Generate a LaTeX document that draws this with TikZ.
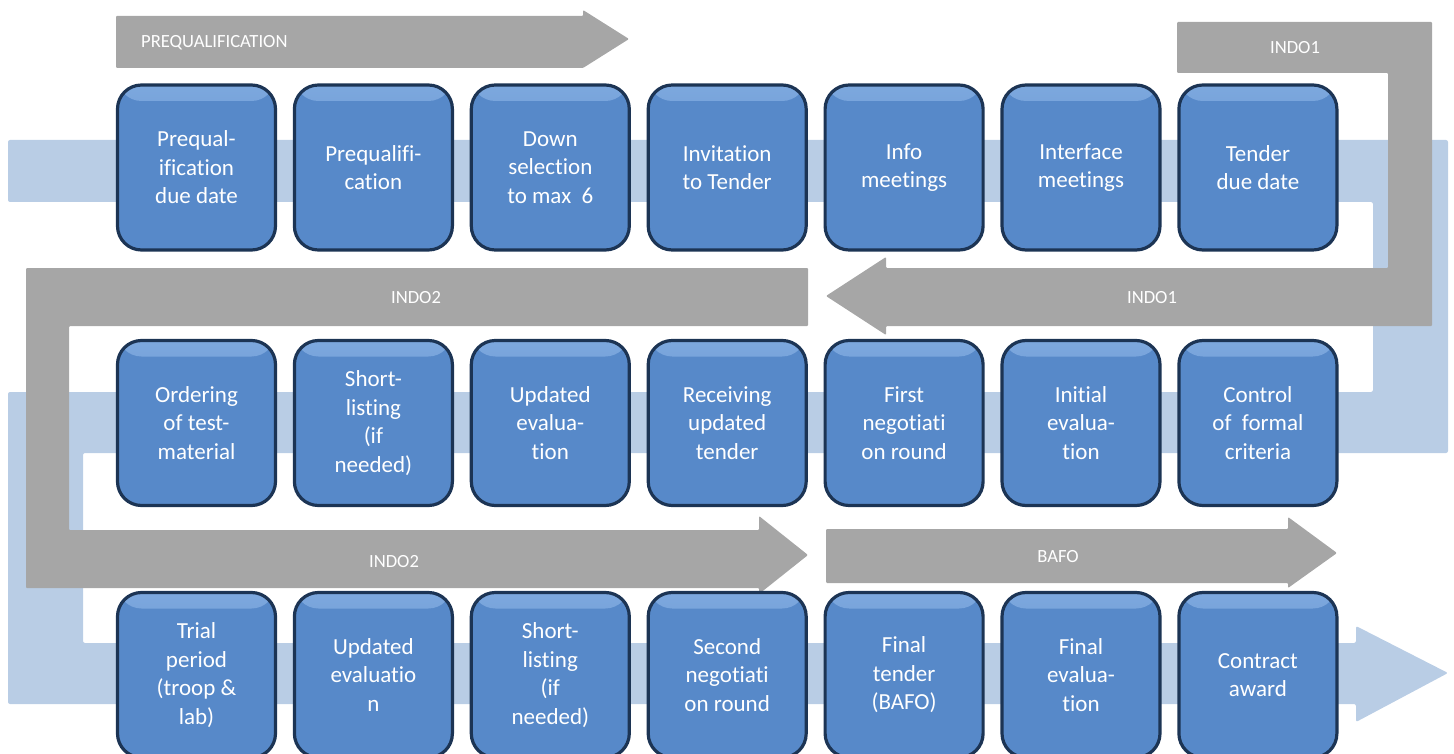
\documentclass[tikz,border=0pt]{standalone}
\usepackage{fontspec}
\setmainfont{Carlito}[Ligatures=CommonOff]
\definecolor{bandblue}{HTML}{B9CDE5}
\definecolor{grayarrow}{HTML}{A6A6A6}
\definecolor{boxblue}{HTML}{5789C9}
\definecolor{boxedge}{HTML}{1C3454}
\definecolor{boxlight}{HTML}{7DA8DE}
\tikzset{
  stepbox/.style={rounded corners=24pt, draw=boxedge, line width=3.2pt, fill=boxblue,
    minimum width=158pt, minimum height=165pt, align=center, text=white,
    font=\fontsize{23}{28.5}\selectfont, inner sep=2pt,
    path picture={\shade[top color=boxlight, bottom color=boxblue]
      ([yshift=2pt]path picture bounding box.north west) rectangle
      ([yshift=-16pt]path picture bounding box.north east);}},
  labeltext/.style={text=white, font=\fontsize{18.6}{20}\selectfont, inner sep=0pt},
  band/.style={fill=bandblue, rounded corners=2pt},
  grayshape/.style={fill=grayarrow, rounded corners=1pt}
}
\begin{document}
\begin{tikzpicture}[x=1pt,y=-1pt]
\useasboundingbox (0,0) rectangle (1454,754);
\clip (0,0) rectangle (1454,754);
% light blue snake band
\path[band] (8,140) -- (1448,140) -- (1448,453) -- (83,453) -- (83,643) -- (1356,643)
  -- (1356,626) -- (1448,673) -- (1356,722) -- (1356,704) -- (8,704) -- (8,392)
  -- (1373,392) -- (1373,202) -- (8,202) -- cycle;
% gray phase arrows
\path[grayshape] (116,16) -- (583,16) -- (583,10) -- (629,39) -- (583,68) -- (116,68) -- cycle;
\path[grayshape] (1177,22) -- (1432,22) -- (1432,326) -- (886,326) -- (886,335) -- (826,296)
  -- (886,257) -- (886,268) -- (1388,268) -- (1388,73) -- (1177,73) -- cycle;
\path[grayshape] (808,268) -- (808,326) -- (69,326) -- (69,530) -- (759,530) -- (759,516)
  -- (808,555) -- (759,594) -- (759,588) -- (26,588) -- (26,268) -- cycle;
\path[grayshape] (826,529) -- (1288,529) -- (1288,517) -- (1337,553) -- (1288,588)
  -- (1288,583) -- (826,583) -- cycle;
% phase labels
\node[labeltext, anchor=west] (lpre) at (141,43) {PREQUALIFICATION};
\node[labeltext] (lindo1a) at (1295,48) {INDO1};
\node[labeltext] (lindo1b) at (1152,298) {INDO1};
\node[labeltext] (lindo2a) at (416,298) {INDO2};
\node[labeltext] (lindo2b) at (394,562) {INDO2};
\node[labeltext] (lbafo) at (1058,557) {BAFO};
% row 1
\node[stepbox] (b11) at (196.5,167.5) {Prequal-\\ification\\due date};
\node[stepbox] (b12) at (373.4,167.5) {Prequalifi-\\cation};
\node[stepbox] (b13) at (550.3,167.5) {Down\\selection\\to max~~6};
\node[stepbox] (b14) at (727.2,167.5) {Invitation\\to Tender};
\node[stepbox] (b15) at (904.1,167.5) {Info\\meetings};
\node[stepbox] (b16) at (1081,167.5) {Interface\\meetings};
\node[stepbox] (b17) at (1257.9,167.5) {Tender\\due date};
% row 2
\node[stepbox] (b21) at (196.5,423) {Ordering\\of test-\\material};
\node[stepbox] (b22) at (373.4,423) {Short-\\listing\\(if\\needed)};
\node[stepbox] (b23) at (550.3,423) {Updated\\evalua-\\tion};
\node[stepbox] (b24) at (727.2,423) {Receiving\\updated\\tender};
\node[stepbox] (b25) at (904.1,423) {First\\negotiati\\on round};
\node[stepbox] (b26) at (1081,423) {Initial\\evalua-\\tion};
\node[stepbox] (b27) at (1257.9,423) {Control\\of~~formal\\criteria};
% row 3
\node[stepbox] (b31) at (196.5,675) {Trial\\period\\(troop \&\\lab)};
\node[stepbox] (b32) at (373.4,675) {Updated\\evaluatio\\n};
\node[stepbox] (b33) at (550.3,675) {Short-\\listing\\(if\\needed)};
\node[stepbox] (b34) at (727.2,675) {Second\\negotiati\\on round};
\node[stepbox] (b35) at (904.1,675) {Final\\tender\\(BAFO)};
\node[stepbox] (b36) at (1081,675) {Final\\evalua-\\tion};
\node[stepbox] (b37) at (1257.9,675) {Contract\\award};
\end{tikzpicture}
\end{document}
